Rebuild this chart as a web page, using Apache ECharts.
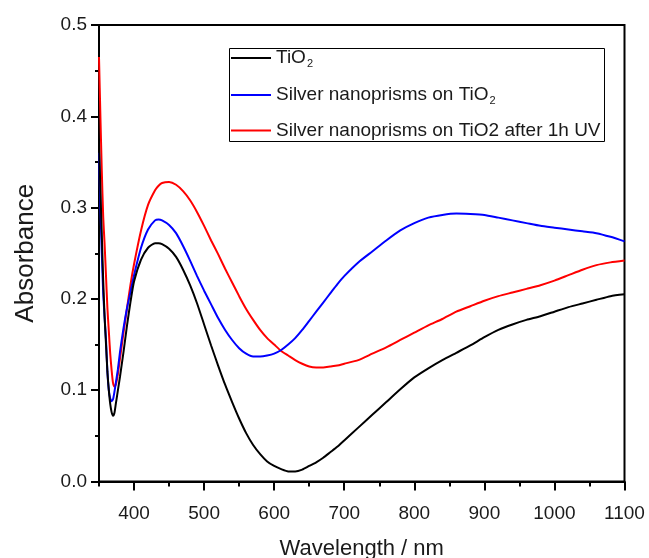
<!DOCTYPE html>
<html>
<head>
<meta charset="utf-8">
<script src="https://cdn.jsdelivr.net/npm/echarts@6/dist/echarts.min.js"></script>
<style>
  html, body { margin: 0; padding: 0; background: #fff; }
  #chart { width: 649px; height: 558px; }
</style>
</head>
<body>
<div id="chart"></div>
<script>
// UV-Vis absorbance spectra
const wavelength = [
  350, 352, 354, 356, 358, 360, 362, 364, 366, 368, 370, 372, 374,
  377, 380, 385, 390, 395, 400,
  410, 420, 430, 435,
  440, 450, 460, 470, 480, 490, 500, 510, 520, 530, 540, 550, 560, 570,
  580, 590, 600, 610, 620, 630, 640, 650, 660, 670, 680, 690, 700,
  720, 740, 760, 780, 800, 820, 840, 860, 880, 900, 920, 940, 960, 980,
  1000, 1020, 1040, 1060, 1080, 1100
];

const tio2 = [
  0.370, 0.320, 0.270, 0.220, 0.180, 0.150, 0.120, 0.100, 0.085, 0.076, 0.072, 0.075, 0.085,
  0.100, 0.115, 0.142, 0.171, 0.197, 0.219,
  0.243, 0.256, 0.261, 0.261,
  0.260, 0.255, 0.246, 0.232, 0.215, 0.195, 0.172, 0.149, 0.127, 0.106, 0.087, 0.069, 0.053, 0.040,
  0.030, 0.022, 0.017, 0.0135, 0.011, 0.011, 0.013, 0.017, 0.021, 0.026, 0.032, 0.038, 0.045,
  0.059, 0.073, 0.087, 0.101, 0.114, 0.124, 0.133, 0.141, 0.149, 0.158, 0.166, 0.172, 0.177, 0.181,
  0.186, 0.191, 0.195, 0.199, 0.203, 0.205
];

const silverOnTio2 = [
  0.360, 0.300, 0.250, 0.206, 0.180, 0.155, 0.120, 0.100, 0.091, 0.088, 0.090, 0.098, 0.108,
  0.123, 0.142, 0.168, 0.190, 0.208, 0.226,
  0.256, 0.276, 0.286, 0.287,
  0.286, 0.281, 0.272, 0.258, 0.242, 0.225, 0.209, 0.194, 0.179, 0.166, 0.155, 0.146, 0.140, 0.137,
  0.137, 0.138, 0.140, 0.144, 0.150, 0.157, 0.166, 0.176, 0.186, 0.196, 0.206, 0.216, 0.225,
  0.240, 0.252, 0.264, 0.275, 0.283, 0.289, 0.292, 0.2935, 0.293, 0.292, 0.289, 0.286, 0.283, 0.280,
  0.278, 0.276, 0.274, 0.272, 0.268, 0.263
];

const silverAfterUv = [
  0.465, 0.400, 0.340, 0.290, 0.260, 0.225, 0.190, 0.165, 0.140, 0.122, 0.108, 0.104, 0.106,
  0.118, 0.135, 0.163, 0.190, 0.216, 0.238,
  0.275, 0.303, 0.319, 0.324,
  0.327, 0.328, 0.325, 0.318, 0.308, 0.295, 0.280, 0.264, 0.249, 0.233, 0.218, 0.203, 0.189, 0.177,
  0.166, 0.157, 0.150, 0.143, 0.138, 0.133, 0.129, 0.126, 0.125, 0.125, 0.126, 0.127, 0.129,
  0.133, 0.140, 0.147, 0.155, 0.163, 0.171, 0.178, 0.186, 0.192, 0.198, 0.203, 0.207, 0.211, 0.215,
  0.220, 0.226, 0.232, 0.237, 0.240, 0.242
];

const seriesNames = ['TiO2', 'Silver nanoprisms on TiO2', 'Silver nanoprisms on TiO2 after 1h UV'];
const seriesColors = ['#000000', '#0000ff', '#ff0000'];
const xMajorTicks = [400, 500, 600, 700, 800, 900, 1000, 1100];
const xMinorTicks = [350, 450, 550, 650, 750, 850, 950, 1050];

const FONT = "'Liberation Sans', Arial, sans-serif";
const TEXT = '#1a1a1a';

function pairs(ys) {
  return wavelength.map((x, i) => [x, ys[i]]);
}

// legend labels, with the subscript on TiO2 where it is typeset that way
const legendLabel = {
  'TiO2': '{t|TiO}{s|2}',
  'Silver nanoprisms on TiO2': '{t|Silver nanoprisms on TiO}{s|2}',
  'Silver nanoprisms on TiO2 after 1h UV': '{t|Silver nanoprisms on TiO2 after 1h UV}'
};

const chart = echarts.init(document.getElementById('chart'), null, { renderer: 'canvas' });

const lineSeries = [tio2, silverOnTio2, silverAfterUv].map((ys, i) => ({
  name: seriesNames[i],
  type: 'line',
  data: pairs(ys),
  showSymbol: false,
  smooth: 0.2,
  color: seriesColors[i],
  lineStyle: { width: 2, color: seriesColors[i] },
  xAxisIndex: 0,
  yAxisIndex: 0,
  z: 3 - i
}));

chart.setOption({
  animation: false,
  backgroundColor: '#ffffff',
  textStyle: { fontFamily: FONT },
  grid: {
    left: 99, right: 24.5, top: 25, bottom: 76.5,
    outerBoundsMode: 'none',
    containLabel: false,
    show: true, borderColor: '#000', borderWidth: 2, backgroundColor: 'transparent'
  },
  graphic: [{
    type: 'rect',
    left: 227, top: 46,
    shape: { width: 375, height: 93 },
    style: { fill: 'none', stroke: '#000', lineWidth: 1 },
    z: 10
  }],
  legend: {
    orient: 'vertical',
    left: 231, top: 47,
    padding: 0,
    itemGap: 15,
    itemWidth: 40,
    itemHeight: 2,
    itemTextGap: 6,
    icon: 'rect',
    data: seriesNames,
    formatter: name => legendLabel[name],
    textStyle: {
      fontFamily: FONT,
      color: TEXT,
      rich: {
        t: { fontSize: 19, fontFamily: FONT, color: TEXT, lineHeight: 20 },
        s: { fontSize: 11, fontFamily: FONT, color: TEXT, lineHeight: 11, padding: [11, 0, 0, 1] }
      }
    },
    z: 11
  },
  xAxis: [{
    type: 'value',
    min: 350, max: 1100,
    name: 'Wavelength / nm',
    nameLocation: 'middle',
    nameGap: 56,
    nameTextStyle: { fontSize: 22, color: TEXT, fontFamily: FONT },
    axisLine: { show: true, onZero: false, lineStyle: { color: '#000', width: 2 } },
    axisTick: { show: true, length: 9, customValues: xMajorTicks, lineStyle: { color: '#000', width: 2 } },
    axisLabel: {
      show: true, customValues: xMajorTicks, margin: 23, fontSize: 19, color: TEXT, fontFamily: FONT,
      formatter: v => String(v)
    },
    splitLine: { show: false }
  }, {
    type: 'value',
    min: 350, max: 1100,
    position: 'bottom',
    axisLine: { show: false },
    axisTick: { show: true, length: 5, customValues: xMinorTicks, lineStyle: { color: '#000', width: 2 } },
    axisLabel: { show: false },
    splitLine: { show: false }
  }],
  yAxis: {
    type: 'value',
    min: 0, max: 0.5, interval: 0.1,
    name: 'Absorbance',
    nameLocation: 'middle',
    nameGap: 60,
    nameTextStyle: { fontSize: 26, color: TEXT, fontFamily: FONT },
    axisLine: { show: true, onZero: false, lineStyle: { color: '#000', width: 2 } },
    axisTick: { show: true, length: 8, lineStyle: { color: '#000', width: 2 } },
    minorTick: { show: true, splitNumber: 2, length: 4, lineStyle: { color: '#000', width: 2 } },
    axisLabel: { margin: 12, fontSize: 19, color: TEXT, fontFamily: FONT, formatter: v => v.toFixed(1) },
    splitLine: { show: false }
  },
  series: lineSeries
});
</script>
</body>
</html>
